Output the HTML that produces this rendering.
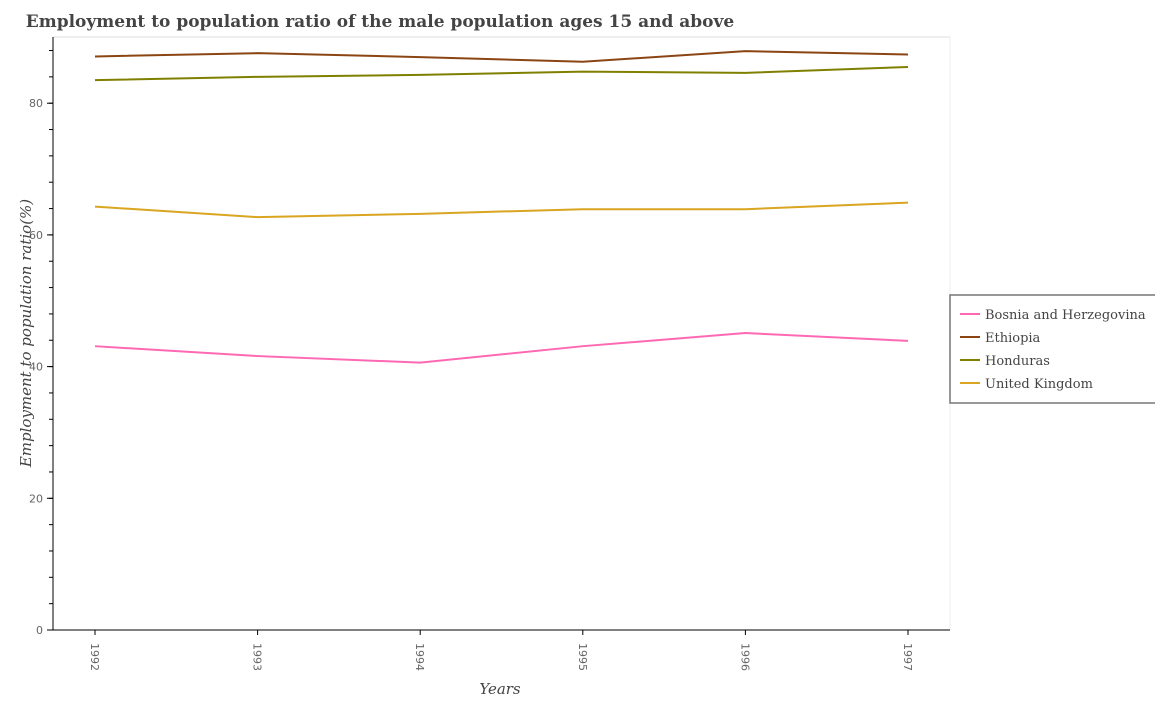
<!DOCTYPE html>
<html><head><meta charset="utf-8"><style>
body{margin:0;background:#fff;width:1155px;height:700px;overflow:hidden}
text{font-family:"DejaVu Sans","Liberation Sans",sans-serif}
</style></head><body>
<svg id="chart" width="1155" height="700">
<text x="380" y="27" font-family="DejaVu Serif,Liberation Serif,serif" style="font-family:'DejaVu Serif','Liberation Serif',serif" font-size="17" font-weight="bold" fill="#444" text-anchor="middle">Employment to population ratio of the male population ages 15 and above</text>
<line x1="53" y1="37" x2="950" y2="37" stroke="#ddd"/>
<line x1="950" y1="37" x2="950" y2="630" stroke="#eee"/>
<g id="axes"></g>
<g id="series"></g>
<text transform="translate(31,333) rotate(-90)" font-size="15" fill="#444" font-style="italic" text-anchor="middle" style="font-family:'DejaVu Serif','Liberation Serif',serif">Employment to population ratio(%)</text>
<text x="500" y="694" font-size="15" fill="#444" font-style="italic" text-anchor="middle" style="font-family:'DejaVu Serif','Liberation Serif',serif">Years</text>
<g>
<rect x="950" y="295" width="210" height="108" fill="#fff" stroke="#777" stroke-width="1.5"/>
<g id="legend-items"></g>
</g>
</svg>
<script>
const years=[1992,1993,1994,1995,1996,1997];
const bosnia=[43.1,41.6,40.6,43.1,45.1,43.9];
const ethiopia=[87.1,87.6,87.0,86.3,87.9,87.4];
const honduras=[83.5,84.0,84.3,84.8,84.6,85.5];
const uk=[64.3,62.7,63.2,63.9,63.9,64.9];
const yTicks=[0,20,40,60,80];
const seriesNames=["Bosnia and Herzegovina","Ethiopia","Honduras","United Kingdom"];
const colors=["#ff69b4","#8b4513","#808000","#daa520"];
const NS="http://www.w3.org/2000/svg";
function xs(i){return 95+i*162.6;}
function ys(v){return 630-v*6.585;}
function mk(tag,attrs,parent){const e=document.createElementNS(NS,tag);for(const k in attrs)e.setAttribute(k,attrs[k]);parent.appendChild(e);return e;}
const axes=document.getElementById('axes');
let l=mk('line',{x1:53,y1:37,x2:53,y2:630,stroke:'#000','stroke-width':1},axes);


l=mk('line',{x1:53,y1:630,x2:950,y2:630,stroke:'#000','stroke-width':1},axes);


for(let v=0;v<=88;v+=4){const t=mk('line',{x1:49,y1:ys(v),x2:53,y2:ys(v),stroke:'#000'},axes);

}
yTicks.forEach(v=>{const t=mk('line',{x1:47,y1:ys(v),x2:53,y2:ys(v),stroke:'#000'},axes);


const tx=mk('text',{x:43,y:ys(v)+4,'font-size':11,fill:'#666','text-anchor':'end'},axes);tx.textContent=v;

});
years.forEach((y,i)=>{const t=mk('line',{x1:xs(i),y1:630,x2:xs(i),y2:635,stroke:'#000'},axes);


const tx=mk('text',{transform:`translate(${xs(i)-4},643) rotate(90)`,'font-size':11,fill:'#666'},axes);tx.textContent=y;

});
const sg=document.getElementById('series');
[bosnia,ethiopia,honduras,uk].forEach((d,k)=>{const p=mk('polyline',{points:d.map((v,i)=>xs(i)+','+ys(v)).join(' '),fill:'none',stroke:colors[k],'stroke-width':2},sg);

});
const lg=document.getElementById('legend-items');
seriesNames.forEach((n,k)=>{const y=314+k*23;
const s=mk('line',{x1:960,y1:y,x2:980,y2:y,stroke:colors[k],'stroke-width':2},lg);


const t=mk('text',{x:985,y:y+5,'font-size':13,fill:'#444',style:"font-family:'DejaVu Serif','Liberation Serif',serif"},lg);t.textContent=n;

});
</script>
</body></html>
